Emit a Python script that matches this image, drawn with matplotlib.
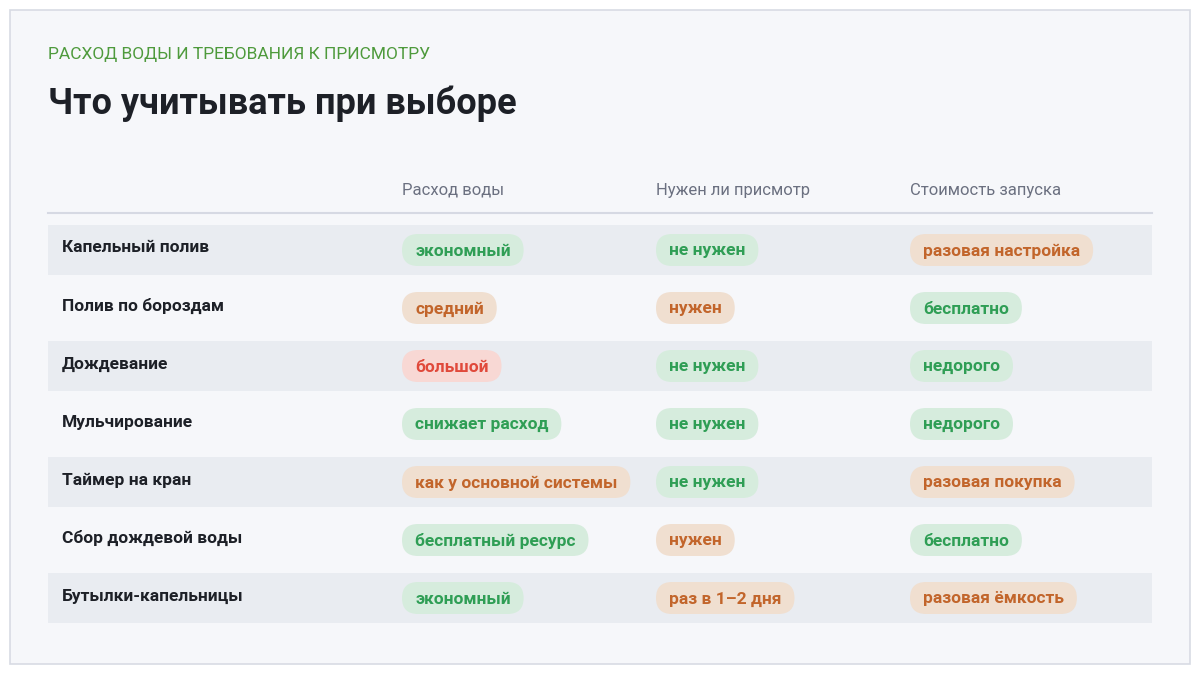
import matplotlib.pyplot as plt
from matplotlib.patches import FancyBboxPatch, Rectangle

plt.rcParams['font.family'] = ['Roboto', 'DejaVu Sans']

subtitle = 'РАСХОД ВОДЫ И ТРЕБОВАНИЯ К ПРИСМОТРУ'
title = 'Что учитывать при выборе'
headers = ['Расход воды', 'Нужен ли присмотр', 'Стоимость запуска']
rows = ['Капельный полив', 'Полив по бороздам', 'Дождевание', 'Мульчирование',
        'Таймер на кран', 'Сбор дождевой воды', 'Бутылки-капельницы']
water = ['экономный', 'средний', 'большой', 'снижает расход',
         'как у основной системы', 'бесплатный ресурс', 'экономный']
care = ['не нужен', 'нужен', 'не нужен', 'не нужен', 'не нужен', 'нужен', 'раз в 1–2 дня']
cost = ['разовая настройка', 'бесплатно', 'недорого', 'недорого',
        'разовая покупка', 'бесплатно', 'разовая ёмкость']
water_tone = ['good', 'mid', 'bad', 'good', 'mid', 'good', 'good']
care_tone = ['good', 'mid', 'good', 'good', 'good', 'mid', 'mid']
cost_tone = ['mid', 'good', 'good', 'good', 'mid', 'good', 'mid']

tones = {'good': ('#2f9e55', '#d6ecdd'),
         'mid': ('#c2652b', '#f0dfd0'),
         'bad': ('#e0493b', '#f8d8d4')}

W, H = 1200, 676
fig = plt.figure(figsize=(12, 6.76), dpi=100)
fig.patch.set_facecolor('white')
ax = fig.add_axes([0, 0, 1, 1])
ax.set_xlim(0, W)
ax.set_ylim(H, 0)
ax.axis('off')

# card background
ax.add_patch(Rectangle((10, 10), 1180, 654, facecolor='#f6f7fa', edgecolor='#d8dbe4', lw=1.2))

ax.text(48, 55, subtitle, color='#4e9a3c', fontsize=12.5, va='center')
ax.text(48, 104, title, color='#1d2027', fontsize=26, fontweight='bold', va='center')

col_x = [402, 656, 910]
for x, h in zip(col_x, headers):
    ax.text(x, 190, h, color='#6b7080', fontsize=12, va='center')
ax.plot([48, 1152], [213, 213], color='#d6d9e3', lw=1.5)

fig.canvas.draw()
renderer = fig.canvas.get_renderer()
inv = ax.transData.inverted()

row_h = 58
for i, name in enumerate(rows):
    yc = 250 + i * row_h
    if i % 2 == 0:
        ax.add_patch(Rectangle((48, yc - 25), 1104, 50, facecolor='#e9ecf1', edgecolor='none'))
    ax.text(62, yc - 2, name, color='#1d2027', fontsize=12.5, fontweight='bold', va='center')
    for x, label, tone in zip(col_x, [water[i], care[i], cost[i]],
                              [water_tone[i], care_tone[i], cost_tone[i]]):
        fg, bg = tones[tone]
        t = ax.text(x + 13, yc + 1, label, color=fg, fontsize=12.5, fontweight='bold',
                    va='center', zorder=3)
        bb = t.get_window_extent(renderer)
        x0, _ = inv.transform((bb.x0, bb.y0))
        x1, _ = inv.transform((bb.x1, bb.y0))
        w = (x1 - x0) + 26
        ax.add_patch(FancyBboxPatch((x + 16, yc - 16 + 1), w - 32, 32 - 2,
                                    boxstyle='round,pad=0,rounding_size=15',
                                    mutation_aspect=1, facecolor=bg, edgecolor=bg,
                                    lw=1, zorder=2))
        ax.add_patch(FancyBboxPatch((x, yc - 16), w, 32,
                                    boxstyle='round,pad=0,rounding_size=16',
                                    facecolor=bg, edgecolor='none', zorder=2))

fig.savefig('out.png', dpi=100, facecolor=fig.get_facecolor())
